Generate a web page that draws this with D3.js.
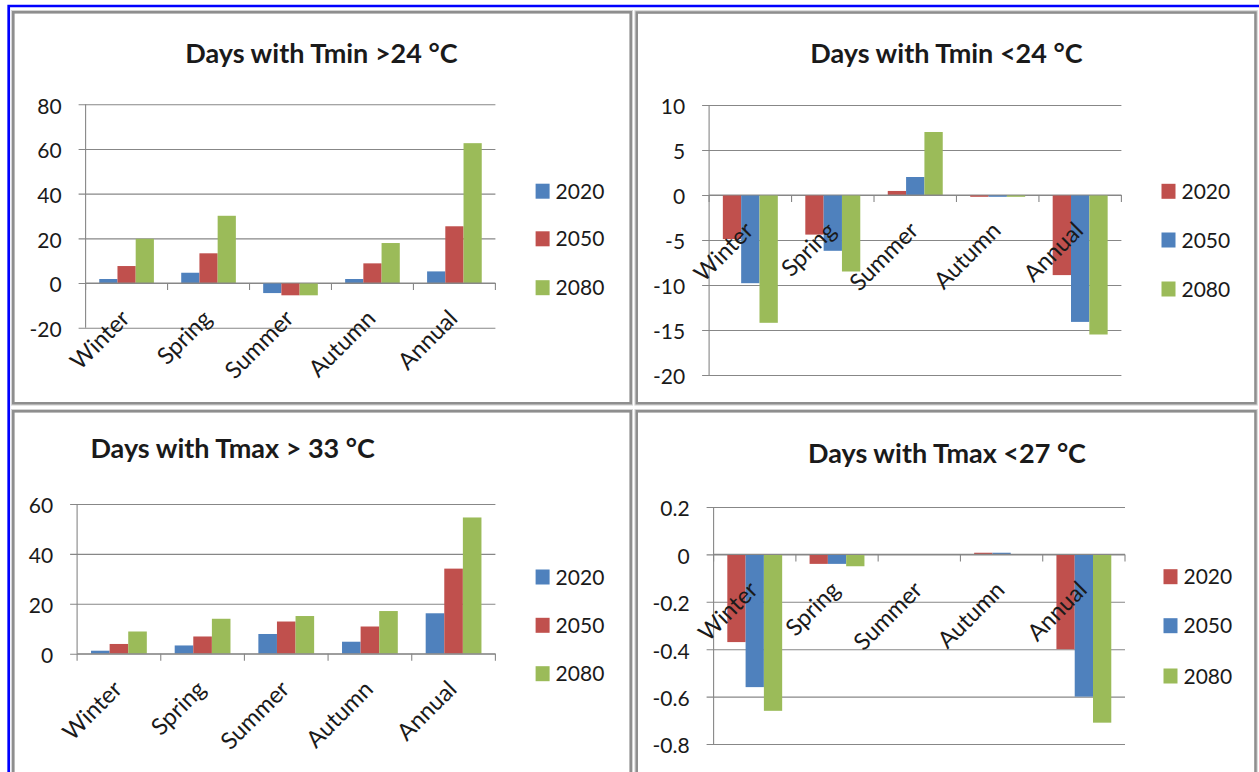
<!DOCTYPE html>
<html>
<head>
<meta charset="utf-8">
<script src="https://cdn.jsdelivr.net/npm/d3@7"></script>
<style>
  html, body { margin: 0; padding: 0; background: #ffffff; }
  svg { display: block; }
  text { font-family: Lato, "Open Sans", "Noto Sans", sans-serif; fill: #1a1a1a; }
</style>
</head>
<body>
<svg id="chart" width="1259" height="772"></svg>
<script>
// ---- data ----
const categories = ["Winter", "Spring", "Summer", "Autumn", "Annual"];
const years = ["2020", "2050", "2080"];

// Change in days with Tmin > 24 °C
const tminAbove24_2020 = [1.8, 4.6, -4.5, 1.8, 5.2];
const tminAbove24_2050 = [7.6, 13.3, -5.5, 8.8, 25.4];
const tminAbove24_2080 = [19.8, 30.1, -5.5, 17.9, 62.6];
const tminAbove24Ticks = [80, 60, 40, 20, 0, -20];
const tminAbove24TickLabels = ["80", "60", "40", "20", "0", "-20"];

// Change in days with Tmin < 24 °C
const tminBelow24_2020 = [-4.9, -4.4, 0.45, -0.2, -8.9];
const tminBelow24_2050 = [-9.8, -6.2, 2.0, -0.2, -14.1];
const tminBelow24_2080 = [-14.2, -8.5, 7.0, -0.2, -15.5];
const tminBelow24Ticks = [10, 5, 0, -5, -10, -15, -20];
const tminBelow24TickLabels = ["10", "5", "0", "-5", "-10", "-15", "-20"];

// Change in days with Tmax > 33 °C
const tmaxAbove33_2020 = [1.2, 3.3, 7.9, 4.8, 16.2];
const tmaxAbove33_2050 = [3.9, 6.9, 12.9, 10.9, 34.1];
const tmaxAbove33_2080 = [8.9, 14.0, 15.1, 17.1, 54.6];
const tmaxAbove33Ticks = [60, 40, 20, 0];
const tmaxAbove33TickLabels = ["60", "40", "20", "0"];

// Change in days with Tmax < 27 °C
const tmaxBelow27_2020 = [-0.37, -0.04, 0, 0.007, -0.40];
const tmaxBelow27_2050 = [-0.56, -0.04, 0, 0.007, -0.60];
const tmaxBelow27_2080 = [-0.66, -0.05, 0, 0, -0.71];
const tmaxBelow27Ticks = [0.2, 0, -0.2, -0.4, -0.6, -0.8];
const tmaxBelow27TickLabels = ["0.2", "0", "-0.2", "-0.4", "-0.6", "-0.8"];

const BLUE = "#4F81BD", RED = "#C0504D", GREEN = "#9BBB59";

// ---- layout of the four panels ----
const panels = [
  {
    title: "Days with Tmin >24 °C", titleX: 321.4, titleY: 62.7, titleAnchor: "middle",
    series: [tminAbove24_2020, tminAbove24_2050, tminAbove24_2080],
    colors: [BLUE, RED, GREEN],
    domain: [-20, 80], ticks: tminAbove24Ticks, tickLabels: tminAbove24TickLabels,
    x0: 85.6, x1: 495.4, yTop: 104.3, yBottom: 327.7,
    labelsAtBottom: true,
    legendX: 535.6, legendY: [191.2, 238.8, 287.7]
  },
  {
    title: "Days with Tmin <24 °C", titleX: 946.4, titleY: 62.7, titleAnchor: "middle",
    series: [tminBelow24_2020, tminBelow24_2050, tminBelow24_2080],
    colors: [RED, BLUE, GREEN],
    domain: [-20, 10], ticks: tminBelow24Ticks, tickLabels: tminBelow24TickLabels,
    x0: 709.1, x1: 1121.4, yTop: 105, yBottom: 375,
    labelsAtBottom: false,
    legendX: 1161.5, legendY: [191.3, 240, 289]
  },
  {
    title: "Days with Tmax > 33 °C", titleX: 90.4, titleY: 458.3, titleAnchor: "start",
    series: [tmaxAbove33_2020, tmaxAbove33_2050, tmaxAbove33_2080],
    colors: [BLUE, RED, GREEN],
    domain: [0, 60], ticks: tmaxAbove33Ticks, tickLabels: tmaxAbove33TickLabels,
    x0: 77.1, x1: 495.4, yTop: 504, yBottom: 653.7,
    labelsAtBottom: false,
    legendX: 535.6, legendY: [577, 625.3, 673.7]
  },
  {
    title: "Days with Tmax <27 °C", titleX: 947, titleY: 463.3, titleAnchor: "middle",
    series: [tmaxBelow27_2020, tmaxBelow27_2050, tmaxBelow27_2080],
    colors: [RED, BLUE, GREEN],
    domain: [-0.8, 0.2], ticks: tmaxBelow27Ticks, tickLabels: tmaxBelow27TickLabels,
    x0: 713.6, x1: 1125, yTop: 507, yBottom: 744,
    labelsAtBottom: false,
    legendX: 1163.5, legendY: [576.7, 625.7, 676]
  }
];

const svg = d3.select("#chart");
svg.append("rect").attr("width", 1259).attr("height", 772).attr("fill", "#ffffff");

// outer blue frame (only top and left edges are inside the view)
svg.append("path")
  .attr("d", "M8.7,772 V6 H1262")
  .attr("fill", "none").attr("stroke", "#0000ff").attr("stroke-width", 2.7);

// grey panel frames
const frames = [
  [13.3, 12.3, 630.7, 403.3],
  [636.7, 12.5, 1255.5, 403.3],
  [13.3, 411.3, 630.7, 790],
  [636.7, 411.3, 1255.5, 790]
];
frames.forEach(([l, t, r, b]) => {
  svg.append("rect")
    .attr("x", l - 1.8).attr("y", t - 1.8).attr("width", r - l + 3.6).attr("height", b - t + 3.6)
    .attr("fill", "none").attr("stroke", "#d4d4d4").attr("stroke-width", 1);
  svg.append("rect")
    .attr("x", l).attr("y", t).attr("width", r - l).attr("height", b - t)
    .attr("fill", "none").attr("stroke", "#8e8e8e").attr("stroke-width", 2.6);
});

const GRID = "#878787";

panels.forEach(p => {
  const g = svg.append("g");

  const x = d3.scaleBand().domain(categories).range([p.x0, p.x1]).paddingInner(0).paddingOuter(0);
  const inner = d3.scaleBand().domain(years).range([0, x.bandwidth()]).paddingInner(0).paddingOuter(0.75);
  const y = d3.scaleLinear().domain(p.domain).range([p.yBottom, p.yTop]);
  const zeroY = y(0);

  // horizontal gridlines with outside tick marks, via a left axis
  const yAxis = d3.axisLeft(y)
    .tickValues(p.ticks)
    .tickFormat((d, i) => p.tickLabels[i])
    .tickSizeInner(-(p.x1 - p.x0))
    .tickSizeOuter(0)
    .tickPadding(24);
  const ya = g.append("g").attr("transform", `translate(${p.x0},0)`).call(yAxis);
  ya.select(".domain").remove();
  ya.selectAll(".tick line").attr("stroke", GRID).attr("stroke-width", 1.1)
    .attr("x1", -7);
  ya.selectAll(".tick text")
    .attr("font-size", 21).attr("fill", "#1a1a1a")
    .attr("font-family", "Lato, 'Open Sans', sans-serif")
    .attr("dy", "0.42em");

  // vertical axis line
  g.append("line")
    .attr("x1", p.x0).attr("x2", p.x0).attr("y1", p.yTop).attr("y2", p.yBottom)
    .attr("stroke", GRID).attr("stroke-width", 1.1);

  // bars
  p.series.forEach((vals, si) => {
    g.selectAll(null).data(vals).enter().append("rect")
      .attr("x", (d, i) => x(categories[i]) + inner(years[si]))
      .attr("width", inner.bandwidth())
      .attr("y", d => Math.min(y(d), zeroY))
      .attr("height", d => Math.abs(y(d) - zeroY))
      .attr("fill", p.colors[si]);
  });

  // category axis along the zero line, ticks between groups
  const bounds = categories.map(c => x(c)).concat([p.x1]);
  g.append("line")
    .attr("x1", p.x0).attr("x2", p.x1).attr("y1", zeroY).attr("y2", zeroY)
    .attr("stroke", GRID).attr("stroke-width", 1.1);
  g.selectAll(null).data(bounds).enter().append("line")
    .attr("x1", d => d).attr("x2", d => d)
    .attr("y1", zeroY).attr("y2", zeroY + 7)
    .attr("stroke", GRID).attr("stroke-width", 1.1);

  // rotated category labels
  const labelY = p.labelsAtBottom ? p.yBottom - 7.7 : zeroY + 37;
  g.selectAll(null).data(categories).enter().append("text")
    .attr("transform", d => `translate(${x(d) + x.bandwidth() / 2 + 4.5},${labelY}) rotate(-45)`)
    .attr("text-anchor", "end")
    .attr("font-size", 23.5)
    .text(d => d);

  // title
  svg.append("text")
    .attr("x", p.titleX).attr("y", p.titleY)
    .attr("text-anchor", p.titleAnchor)
    .attr("font-size", 27).attr("font-weight", "bold")
    .attr("fill", "#000")
    .text(p.title);

  // legend
  years.forEach((yr, i) => {
    const cy = p.legendY[i];
    svg.append("rect")
      .attr("x", p.legendX).attr("y", cy - 7.5).attr("width", 14).attr("height", 15)
      .attr("fill", p.colors[i]);
    svg.append("text")
      .attr("x", p.legendX + 20).attr("y", cy + 7.5)
      .attr("font-size", 21)
      .text(yr);
  });
});
</script>
</body>
</html>
